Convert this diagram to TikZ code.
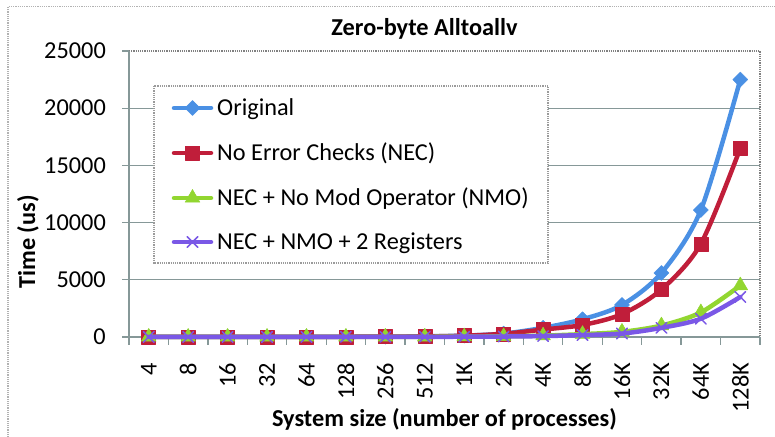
\documentclass[tikz,border=0pt]{standalone}
\usepackage{fontspec}
\setmainfont{Carlito}
\usepackage{tikz}
\usetikzlibrary{plotmarks}
\definecolor{azulorig}{RGB}{74,144,228}
\definecolor{rojonec}{RGB}{192,30,58}
\definecolor{verdenmo}{RGB}{146,214,48}
\definecolor{moradoreg}{RGB}{122,88,230}
\definecolor{grisejes}{RGB}{134,152,152}
\definecolor{grisborde}{RGB}{128,128,128}
\definecolor{grisleyenda}{RGB}{155,155,155}
\definecolor{grismarco}{RGB}{178,178,178}

\begin{document}
\begin{tikzpicture}[
  x=1pt, y=1pt,
  etq/.style={font=\fontsize{24.3}{28}\selectfont, inner sep=0pt},
  etqbf/.style={font=\fontsize{24.3}{28}\selectfont\bfseries, inner sep=0pt},
  rejilla/.style={draw=grisejes, line width=1.3pt},
  punteado/.style={dash pattern=on 1.2pt off 1pt, line width=1.1pt},
  curva/.style={line width=4.5pt, line join=round, line cap=round},
  orig/.style={curva, color=azulorig, mark=square*, mark size=5.3pt,
    mark options={rotate=45, line width=.5pt}},
  nec/.style={curva, color=rojonec, mark=square*, mark size=7pt,
    mark options={line width=.5pt}},
  nmo/.style={curva, color=verdenmo, mark=triangle*, mark size=8.5pt,
    mark options={line width=.5pt}},
  reg/.style={curva, color=moradoreg, mark=x, mark size=7.5pt,
    mark options={line width=1.5pt}}
]
\useasboundingbox (0,0) rectangle (775,436);
% marco exterior
\draw[grismarco, punteado] (8,-10) -- (8,429.3) -- (790,429.3);
\node[etqbf, anchor=base] (titulo) at (424.5,400.3) {Zero-byte Alltoallv};

% rejilla y ejes
\foreach \k in {1,...,4}
  \draw[rejilla] (129,99+57.2*\k) -- (760,99+57.2*\k);
\draw[grisborde, punteado] (129,385) -- (760,385) -- (760,99);
\foreach \k in {0,...,5}
  \draw[rejilla] (122,99+57.2*\k) -- (129,99+57.2*\k);
\foreach \k in {0,...,16}
  \draw[rejilla] (129+39.4375*\k,99) -- ++(0,-8);
\draw[rejilla] (129,385) -- (129,99) -- (760,99);

% etiquetas de los ejes
\foreach \v [count=\k from 0] in {0,5000,10000,15000,20000,25000}
  \node[etq, anchor=east] (ey\k) at (106,99+57.2*\k) {\v};
\foreach \c [count=\k from 0] in {4,8,16,32,64,128,256,512,1K,2K,4K,8K,16K,32K,64K,128K}
  \node[etq, rotate=90, anchor=east] (ex\k) at (148.72+39.4375*\k,73.3) {\c};
\node[etqbf, rotate=90] (ejey) at (28,194) {Time (us)};
\node[etqbf, anchor=base] (ejex) at (444.5,9.3) {System size (number of processes)};

% leyenda
\draw[grisleyenda, punteado, fill=white] (154,350) rectangle (548,173);
\draw[orig] plot[mark indices={2}] coordinates {(174,328) (192.5,328) (211,328)};
\node[etq, anchor=base west] (lorig) at (217,320) {Original};
\draw[nec] plot[mark indices={2}] coordinates {(174,283) (192.5,283) (211,283)};
\node[etq, anchor=base west] (lnec) at (217,275) {No Error Checks (NEC)};
\draw[nmo] plot[mark indices={2}] coordinates {(174,238) (192.5,238) (211,238)};
\node[etq, anchor=base west] (lnmo) at (217,230) {NEC + No Mod Operator (NMO)};
\draw[reg] plot[mark indices={2}] coordinates {(174,194) (192.5,194) (211,194)};
\node[etq, anchor=base west] (lreg) at (217,186) {NEC + NMO + 2 Registers};

% series (tiempos en miles de us)
\begin{scope}[shift={(129pt,99pt)}, x=39.4375pt, y=11.44pt]
  \draw[orig] plot[smooth, tension=.5] coordinates {(0.5,.01) (1.5,.01) (2.5,.01)
    (3.5,.01) (4.5,.015) (5.5,.02) (6.5,.03) (7.5,.06) (8.5,.12) (9.5,.3) (10.5,.8)
    (11.5,1.55) (12.5,2.8) (13.5,5.6) (14.5,11.1) (15.5,22.5)};
  \draw[nec] plot[smooth, tension=.5] coordinates {(0.5,.01) (1.5,.01) (2.5,.01)
    (3.5,.01) (4.5,.015) (5.5,.02) (6.5,.03) (7.5,.05) (8.5,.11) (9.5,.28) (10.5,.65)
    (11.5,1.05) (12.5,2.0) (13.5,4.15) (14.5,8.15) (15.5,16.5)};
  \draw[nmo] plot[smooth, tension=.5] coordinates {(0.5,.005) (1.5,.005) (2.5,.005)
    (3.5,.005) (4.5,.005) (5.5,.01) (6.5,.015) (7.5,.02) (8.5,.03) (9.5,.06) (10.5,.12)
    (11.5,.25) (12.5,.45) (13.5,1.0) (14.5,2.15) (15.5,4.5)};
  \draw[reg] plot[smooth, tension=.5] coordinates {(0.5,.005) (1.5,.005) (2.5,.005)
    (3.5,.005) (4.5,.005) (5.5,.01) (6.5,.01) (7.5,.015) (8.5,.025) (9.5,.04) (10.5,.08)
    (11.5,.17) (12.5,.3) (13.5,.8) (14.5,1.6) (15.5,3.5)};
\end{scope}
\end{tikzpicture}
\end{document}
